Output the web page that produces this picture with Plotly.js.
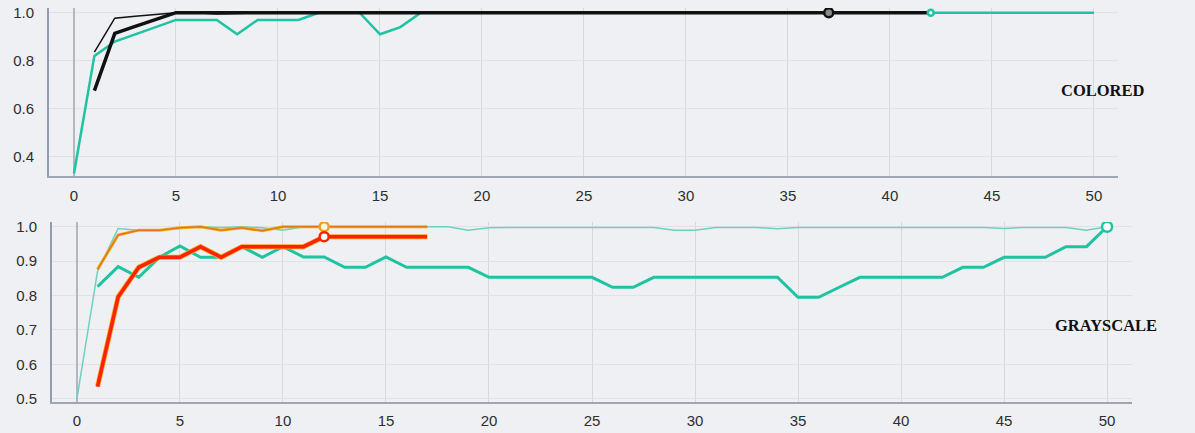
<!DOCTYPE html>
<html>
<head>
<meta charset="utf-8">
<script src="https://cdn.plot.ly/plotly-3.0.1.min.js"></script>
<style>
html,body{margin:0;padding:0;background:#eef0f3;}
#chart{width:1195px;height:433px;}
</style>
</head>
<body>
<div id="chart"></div>
<script>
// ---------- DATA ----------
const epochs = [0,1,2,3,4,5,6,7,8,9,10,11,12,13,14,15,16,17,18,19,20,21,22,23,24,25,26,27,28,29,30,31,32,33,34,35,36,37,38,39,40,41,42,43,44,45,46,47,48,49,50];

// COLORED panel
const coloredTeal = [0.33,0.82,0.88,0.91,0.94,0.97,0.97,0.97,0.91,0.97,0.97,0.97,1.0,1.0,1.0,0.91,0.94,
  1.0,1.0,1.0,1.0,1.0,1.0,1.0,1.0,1.0,1.0,1.0,1.0,1.0,1.0,1.0,1.0,1.0,1.0,1.0,1.0,1.0,1.0,1.0,1.0,1.0,1.0,1.0,1.0,1.0,1.0,1.0,1.0,1.0,1.0,1.0];
const coloredBlackThick = [0.675,0.914,0.943,0.971,1.0,1.0,1.0,1.0,1.0,1.0,1.0,1.0,1.0,1.0,1.0,1.0,1.0,1.0,1.0,1.0,1.0,1.0,1.0,1.0,1.0,1.0,1.0,1.0,1.0,1.0,1.0,1.0,1.0,1.0,1.0,1.0,1.0,1.0,1.0,1.0,1.0,1.0]; // epochs 1..42
const coloredBlackThin = [0.836,0.977,0.985,0.993,1.0,1.0,0.995,0.997,1.0,1.0,1.0,1.0,1.0,1.0,1.0,1.0,1.0,1.0,0.997,1.0,1.0,1.0,1.0,1.0,0.997,1.0,1.0,1.0,1.0,1.0,0.997,1.0,1.0,1.0,1.0,1.0,1.0]; // epochs 1..37
const coloredMarkBlack = {x:[37], y:[1.0]};
const coloredMarkTeal = {x:[42], y:[1.0]};

// GRAYSCALE panel
const grayTealThick = [0.826,0.884,0.853,0.911,0.944,0.911,0.911,0.942,0.911,0.942,0.912,0.912,0.882,0.882,0.912,0.882,0.882,0.882,0.882,
  0.853,0.853,0.853,0.853,0.853,0.853,0.824,0.824,0.853,0.853,0.853,0.853,0.853,0.853,0.853,0.795,0.795,0.824,0.853,0.853,0.853,0.853,0.853,
  0.882,0.882,0.911,0.911,0.911,0.942,0.942,1.0]; // epochs 1..50
const grayTealThin = [0.50,0.87,0.995,0.99,0.99,0.995,1.0,0.998,1.0,0.997,0.99,1.0,1.0,1.0,1.0,1.0,1.0,1.0,1.0,0.99,0.997,0.998,0.997,0.998,0.998,0.998,0.998,0.998,0.998,0.99,0.99,0.998,0.998,0.998,0.994,0.998,0.998,0.998,0.998,0.998,0.998,0.998,0.998,0.998,0.998,0.995,0.998,0.998,0.998,0.99,1.0]; // epochs 0..50
const grayOrange = [0.876,0.976,0.99,0.99,0.997,1.0,0.99,0.997,0.988,1.0,1.0,1.0,1.0,1.0,1.0,1.0,1.0]; // epochs 1..17
const grayRed = [0.535,0.796,0.882,0.911,0.911,0.942,0.911,0.942,0.942,0.942,0.942,0.971,0.971,0.971,0.971,0.971,0.971]; // epochs 1..17
const grayMarkOrange = {x:[12], y:[1.0]};
const grayMarkRed = {x:[12], y:[0.971]};
const grayMarkTeal = {x:[50], y:[1.0]};

const labels = ["COLORED","GRAYSCALE"];

// ---------- STYLE ----------
const TEAL = '#1fc2a1';
const TEAL_THIN = '#6fd0c0';

function line(x, y, color, width, xa, ya){
  return {x:x, y:y, type:'scatter', mode:'lines', line:{color:color, width:width}, xaxis:xa, yaxis:ya, hoverinfo:'skip'};
}
function mark(m, color, fill, size, xa, ya){
  return {x:m.x, y:m.y, type:'scatter', mode:'markers', xaxis:xa, yaxis:ya, hoverinfo:'skip',
    marker:{symbol:'circle', size:size, color:fill, line:{color:color, width:2.5}}};
}

const traces = [
  line(epochs, coloredTeal, TEAL, 2.5, 'x', 'y'),
  line(epochs.slice(1, 43), coloredBlackThick, '#111111', 3.5, 'x', 'y'),
  line(epochs.slice(1, 38), coloredBlackThin, '#111111', 1.5, 'x', 'y'),
  mark(coloredMarkBlack, '#111111', '#8a8a8a', 9, 'x', 'y'),
  mark(coloredMarkTeal, TEAL, '#ffffff', 6, 'x', 'y'),

  line(epochs.slice(1, 51), grayTealThick, TEAL, 3, 'x2', 'y2'),
  line(epochs, grayTealThin, TEAL_THIN, 1.5, 'x2', 'y2'),
  line(epochs.slice(1, 18), grayOrange, '#f2b01e', 3, 'x2', 'y2'),
  line(epochs.slice(1, 18), grayOrange, '#e0781a', 1.5, 'x2', 'y2'),
  line(epochs.slice(1, 18), grayRed, '#f7a21b', 5, 'x2', 'y2'),
  line(epochs.slice(1, 18), grayRed, '#fa2208', 3.5, 'x2', 'y2'),
  mark(grayMarkOrange, '#eba21e', '#fff6d8', 9, 'x2', 'y2'),
  mark(grayMarkRed, '#fa2208', '#ffffff', 9, 'x2', 'y2'),
  mark(grayMarkTeal, TEAL, '#ffffff', 10, 'x2', 'y2')
];

const tickFont = {family:'Liberation Sans, Arial, sans-serif', size:15, color:'#2e2e2e'};
function xax(domain, range, anchor, standoff){
  return {domain:domain, range:range, anchor:anchor, dtick:5, tick0:0, showgrid:true, gridcolor:'#d6d9de', gridwidth:1,
    zeroline:true, zerolinecolor:'#b3b8c0', zerolinewidth:2, showline:true, linecolor:'#9ea6b2', linewidth:2,
    ticks:'', ticklabelstandoff:standoff, tickfont:tickFont, fixedrange:true};
}
function yax(domain, range, anchor, dtick){
  return {domain:domain, range:range, anchor:anchor, dtick:dtick, tick0:0, tickformat:'.1f', showgrid:true,
    gridcolor:'#e0e2e6', gridwidth:1, zeroline:false, showline:true, linecolor:'#8e9db1', linewidth:2,
    ticks:'', ticklabelstandoff:10, tickfont:tickFont, fixedrange:true};
}

const layout = {
  width:1195, height:433,
  margin:{l:0, r:0, t:0, b:0},
  paper_bgcolor:'#eef0f3', plot_bgcolor:'#eef0f3',
  showlegend:false,
  xaxis: xax([49/1195, 1118/1195], [-1.225, 51.18], 'y', 5),
  yaxis: yax([(433-176)/433, (433-8)/433], [0.3196, 1.0196], 'x', 0.2),
  xaxis2: xax([52/1195, 1132/1195], [-1.21, 51.21], 'y2', 4),
  yaxis2: yax([(433-401.7)/433, (433-222)/433], [0.4913, 1.0137], 'x2', 0.1),
  annotations: [
    {text:labels[0], x:1103/1195, y:(433-90.7)/433, xref:'paper', yref:'paper', showarrow:false,
     xanchor:'center', yanchor:'middle', font:{family:'Liberation Serif, Times New Roman, serif', size:16.5, color:'#111', weight:700}},
    {text:labels[1], x:1105.5/1195, y:(433-325)/433, xref:'paper', yref:'paper', showarrow:false,
     xanchor:'center', yanchor:'middle', font:{family:'Liberation Serif, Times New Roman, serif', size:16.5, color:'#111', weight:700}}
  ]
};

Plotly.newPlot('chart', traces, layout, {displayModeBar:false, staticPlot:true});
</script>
</body>
</html>
